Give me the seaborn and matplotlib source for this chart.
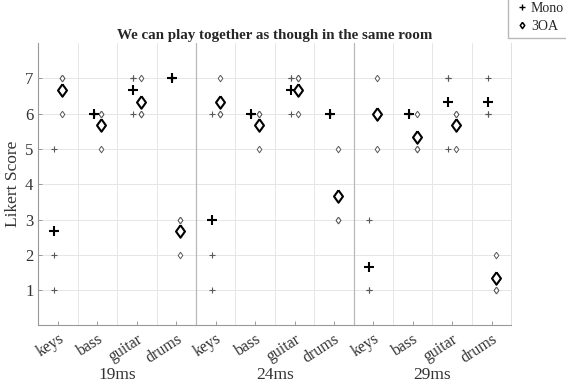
import numpy as np
import pandas as pd
import matplotlib
matplotlib.use("Agg")
import matplotlib.pyplot as plt
from matplotlib.lines import Line2D
from matplotlib.ticker import FixedLocator
import seaborn as sns

# Layout of the listening test: 4 instruments at 3 network delays
instruments = ["keys", "bass", "guitar", "drums"]
delays = ["19ms", "24ms", "29ms"]
systems = ["Mono", "3OA"]
y_ticks = [1, 2, 3, 4, 5, 6, 7]

# Individual Likert responses (3 participants) per instrument, per delay
mono_19ms = [[5, 2, 1], [6, 6, 6], [7, 7, 6], [7, 7, 7]]
mono_24ms = [[6, 2, 1], [6, 6, 6], [7, 7, 6], [6, 6, 6]]
mono_29ms = [[3, 1, 1], [6, 6, 6], [7, 7, 5], [7, 6, 6]]
foa_19ms = [[7, 7, 6], [6, 6, 5], [7, 6, 6], [3, 3, 2]]
foa_24ms = [[7, 6, 6], [6, 6, 5], [7, 7, 6], [5, 3, 3]]
foa_29ms = [[7, 6, 5], [6, 5, 5], [6, 6, 5], [2, 1, 1]]

scores = {
    "Mono": [mono_19ms, mono_24ms, mono_29ms],
    "3OA": [foa_19ms, foa_24ms, foa_29ms],
}

rows = []
for system in systems:
    for di, delay in enumerate(delays):
        for ii, inst in enumerate(instruments):
            for v in scores[system][di][ii]:
                rows.append(dict(system=system, delay=delay, instrument=inst,
                                 slot=di * len(instruments) + ii, score=v))
df = pd.DataFrame(rows)
shift = {"Mono": -0.1, "3OA": 0.1}
df["x"] = df["slot"] + df["system"].map(shift)
means = df.groupby(["system", "delay", "instrument", "slot", "x"],
                   as_index=False)["score"].mean()

sns.set_theme(style="white")
plt.rcParams["font.family"] = ["Liberation Serif", "DejaVu Serif"]
plt.rcParams["axes.unicode_minus"] = False

fig = plt.figure(figsize=(5.66, 3.87), dpi=100)
ax = fig.add_axes([0.0677, 0.159, 0.8357, 0.730])

diamond = [(0, 1), (0.72, 0), (0, -1), (-0.72, 0), (0, 1)]

mono = df[df["system"] == "Mono"]
foa = df[df["system"] == "3OA"]
mono_m = means[means["system"] == "Mono"]
foa_m = means[means["system"] == "3OA"]

# individual answers
sns.scatterplot(data=mono, x="x", y="score", marker="+", s=20,
                color="0.35", linewidth=0.8, ax=ax, legend=False, zorder=3)
sns.scatterplot(data=foa, x="x", y="score", marker=diamond, s=22,
                facecolor="white", edgecolor="0.35", linewidth=0.7,
                ax=ax, legend=False, zorder=3)
# means
sns.scatterplot(data=mono_m, x="x", y="score", marker="+", s=48,
                color="black", linewidth=1.5, ax=ax, legend=False, zorder=4)
sns.scatterplot(data=foa_m, x="x", y="score", marker=diamond, s=80,
                facecolor="white", edgecolor="black", linewidth=1.5,
                ax=ax, legend=False, zorder=4)

n_slots = len(delays) * len(instruments)
ax.set_xlim(-0.5, n_slots - 0.5)
ax.set_ylim(0, 8)
ax.set_xticks(range(n_slots))
ax.set_xticklabels(instruments * len(delays), rotation=33, ha="right",
                   rotation_mode="anchor", fontsize=11.5, color="0.2")
ax.xaxis.set_minor_locator(FixedLocator(np.arange(0.5, n_slots - 0.5, 1)))
ax.set_yticks(y_ticks)
ax.set_yticklabels([str(t) for t in y_ticks], fontsize=12, color="0.2")

ax.grid(True, which="major", axis="y", color="0.9", linewidth=0.7)
ax.grid(True, which="minor", axis="x", color="0.9", linewidth=0.7)
ax.grid(False, which="major", axis="x")
for sep in (3.5, 7.5):
    ax.axvline(sep, color="0.72", linewidth=0.9, zorder=1)

ax.tick_params(axis="both", which="major", direction="in", length=3,
               color="0.55", width=0.6, pad=4, bottom=True, left=True)
ax.tick_params(axis="y", which="major", pad=3.5)
ax.tick_params(axis="x", which="minor", length=0)
for side in ("left", "bottom"):
    ax.spines[side].set_color("0.6")
    ax.spines[side].set_linewidth(0.8)
ax.spines["right"].set_color("0.88")
ax.spines["right"].set_linewidth(0.7)
ax.spines["top"].set_visible(False)

ax.set_xlabel("")
ax.set_ylabel("Likert Score", fontsize=12.5, color="0.2")
ax.yaxis.set_label_coords(-0.036, 0.5)
ax.set_title("We can play together as though in the same room",
             fontsize=10.8, fontweight="bold", pad=3)

for di, delay in enumerate(delays):
    center = di * len(instruments) + (len(instruments) - 1) / 2
    ax.text(center, -0.175, delay, transform=ax.get_xaxis_transform(),
            ha="center", va="center", fontsize=12.5, color="0.2")

handles = [
    Line2D([], [], linestyle="none", marker="+", markersize=4.5,
           color="black", markeredgewidth=1.0),
    Line2D([], [], linestyle="none", marker=diamond, markersize=4.5,
           markerfacecolor="white", markeredgecolor="black",
           markeredgewidth=1.1),
]
fig.legend(handles, systems, loc="upper left", bbox_to_anchor=(0.8975, 1.008),
           frameon=True, fancybox=False, edgecolor="0.65", fontsize=10,
           handlelength=1.3, handletextpad=0.0, borderpad=0.35,
           labelspacing=0.37, borderaxespad=0)

fig.savefig("out.png", dpi=100)
